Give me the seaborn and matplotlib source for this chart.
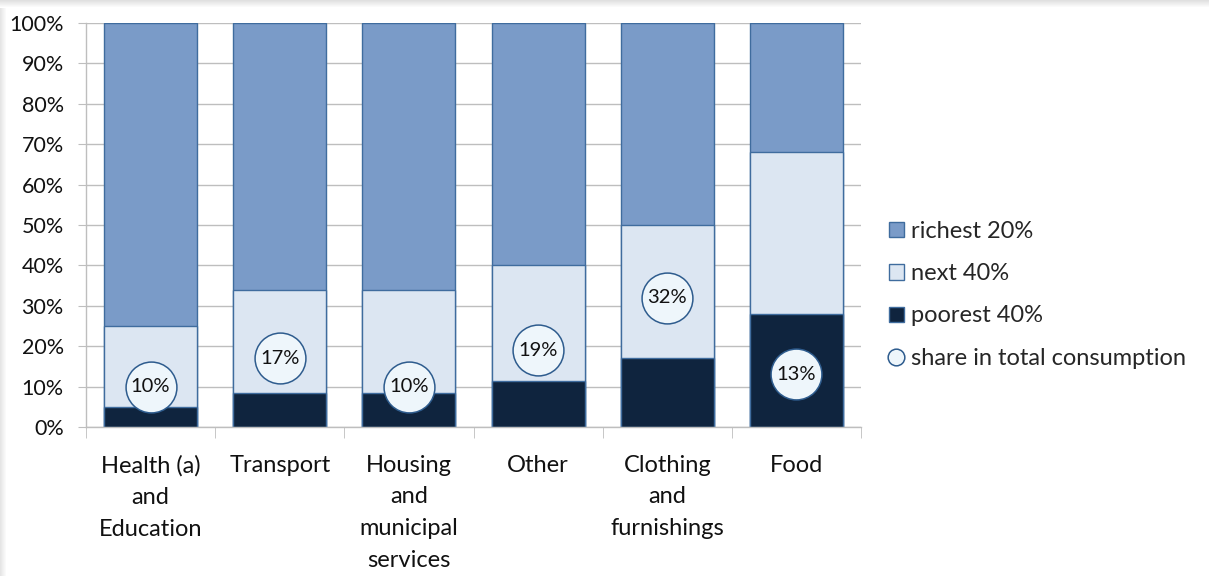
import numpy as np
import pandas as pd
import matplotlib
matplotlib.use("Agg")
import matplotlib.pyplot as plt
from matplotlib.patches import Patch
from matplotlib.lines import Line2D
from matplotlib.ticker import PercentFormatter, FixedLocator
import seaborn as sns

# Consumption categories and income-group shares (percent of spending in each category)
categories = ["Health (a)\nand\nEducation", "Transport", "Housing\nand\nmunicipal\nservices",
              "Other", "Clothing\nand\nfurnishings", "Food"]
poorest_40 = [5, 8.5, 8.5, 11.5, 17, 28]
next_40 = [20, 25.5, 25.5, 28.5, 33, 40]
richest_20 = [75, 66, 66, 60, 50, 32]
share_total = [10, 17, 10, 19, 32, 13]
share_labels = ["10%", "17%", "10%", "19%", "32%", "13%"]

C_RICH = "#7A9BC8"
C_NEXT = "#DCE6F2"
C_POOR = "#0F243E"
C_EDGE = "#3F6C9E"
C_DOT = "#EEF6FB"
C_DOT_EDGE = "#2E5C8E"
GRID = "#BEBEBE"

sns.set_style("white")
plt.rcParams["font.family"] = ["Lato", "DejaVu Sans"]

df = pd.DataFrame({
    "category": categories,
    "poorest": poorest_40,
    "next": next_40,
    "richest": richest_20,
    "share": share_total,
})
df["lvl1"] = df["poorest"]
df["lvl2"] = df["poorest"] + df["next"]
df["lvl3"] = df["lvl2"] + df["richest"]

fig = plt.figure(figsize=(12.09, 5.76), dpi=100)
ax = fig.add_axes([86 / 1209, 1 - 427 / 576, (861 - 86) / 1209, (427 - 23) / 576])

# stacked bars drawn back to front as cumulative totals
for col, color in [("lvl3", C_RICH), ("lvl2", C_NEXT), ("lvl1", C_POOR)]:
    sns.barplot(data=df, x="category", y=col, color=color, width=0.72,
                edgecolor=C_EDGE, linewidth=1.0, saturation=1, ax=ax, zorder=2)

# share in total consumption markers
sns.scatterplot(data=df, x="category", y="share", s=1340, color=C_DOT,
                edgecolor=C_DOT_EDGE, linewidth=1.1, ax=ax, zorder=4, legend=False)
for i, (v, lab) in enumerate(zip(share_total, share_labels)):
    ax.text(i, v, lab, ha="center", va="center", fontsize=14.5, color="#111111", zorder=5)

ax.set_xlim(-0.5, len(categories) - 0.5)
ax.set_ylim(0, 100)
ax.set_xlabel("")
ax.set_ylabel("")
ax.yaxis.set_major_locator(FixedLocator(np.arange(0, 101, 10)))
ax.yaxis.set_major_formatter(PercentFormatter(decimals=0))
ax.yaxis.grid(True, color=GRID, linewidth=1.0, zorder=0)
ax.set_axisbelow(True)

for s in ["top", "right"]:
    ax.spines[s].set_visible(False)
for s in ["left", "bottom"]:
    ax.spines[s].set_color(GRID)
    ax.spines[s].set_linewidth(1.0)

ax.tick_params(axis="y", which="major", length=6, color=GRID, pad=10,
               labelsize=15.5, labelcolor="#111111", left=True)
ax.set_xticks(range(len(categories)))
ax.set_xticklabels(categories, fontsize=17, color="#111111", linespacing=1.63, va="top")
ax.tick_params(axis="x", which="major", length=0, pad=20)
ax.set_xticks(np.arange(-0.5, len(categories), 1.0), minor=True)
ax.tick_params(axis="x", which="minor", length=8, color=GRID, bottom=True)

handles = [
    Patch(facecolor=C_RICH, edgecolor=C_EDGE, label="richest 20%"),
    Patch(facecolor=C_NEXT, edgecolor=C_EDGE, label="next 40%"),
    Patch(facecolor=C_POOR, edgecolor=C_EDGE, label="poorest 40%"),
    Line2D([], [], marker="o", linestyle="none", markersize=12, markerfacecolor=C_DOT,
           markeredgecolor=C_DOT_EDGE, markeredgewidth=1.1, label="share in total consumption"),
]
fig.legend(handles=handles, loc="upper left", bbox_to_anchor=(889 / 1209, 1 - 221 / 576),
           frameon=False, fontsize=17, handlelength=0.62, handleheight=0.62,
           handletextpad=0.3, labelspacing=0.9, borderaxespad=0, borderpad=0)

# soft shadow along the top and left edges of the canvas
top = np.linspace(0.88, 1.0, 8)[:, None] * np.ones((8, 1209))
fig.figimage(np.dstack([top] * 3), xo=0, yo=576 - 8, origin="upper", zorder=0)
left = np.linspace(0.9, 1.0, 7)[None, :] * np.ones((568, 7))
fig.figimage(np.dstack([left] * 3), xo=0, yo=0, origin="upper", zorder=0)

fig.savefig("out.png", dpi=100)
